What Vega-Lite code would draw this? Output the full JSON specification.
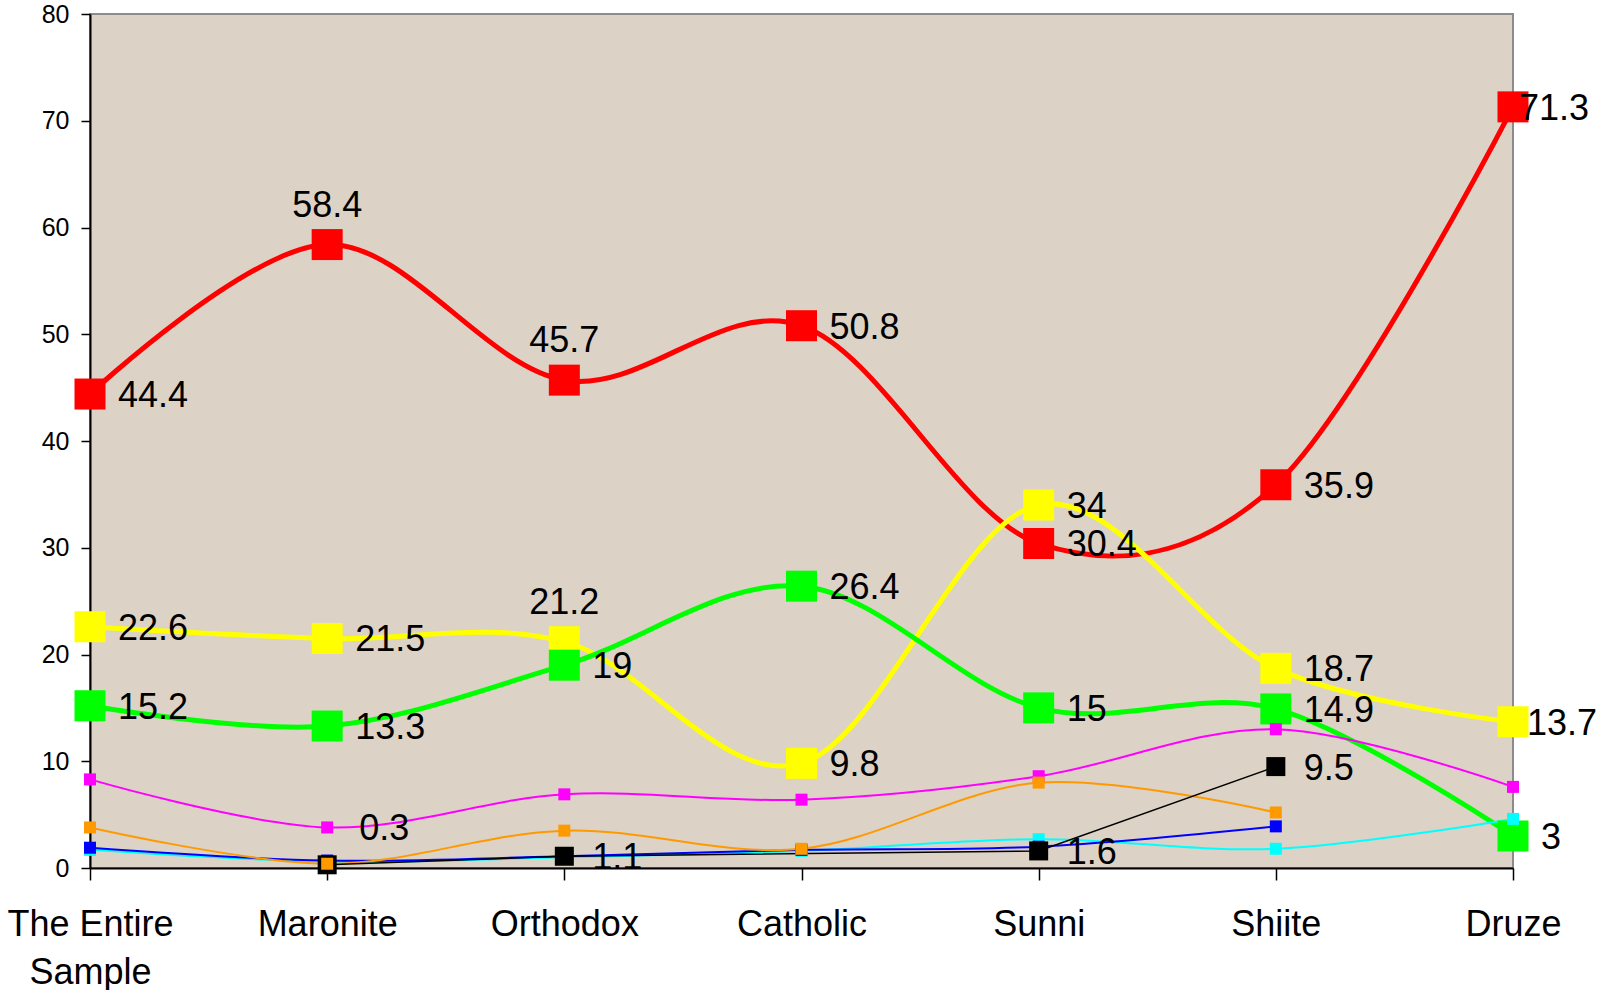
{
  "$schema": "https://vega.github.io/schema/vega-lite/v6.json",
  "width": 1423,
  "height": 854,
  "autosize": {"type": "none"},
  "padding": {"left": 90, "top": 14, "right": 88, "bottom": 122},
  "background": "white",
  "config": {
    "view": {"fill": "#dcd3c6", "stroke": "#8c8c8c", "strokeWidth": 2},
    "font": "Liberation Sans",
    "axis": {"domainColor": "black", "domainWidth": 2, "tickColor": "black", "tickWidth": 1.5, "labelColor": "black", "labelFont": "Liberation Sans", "grid": false, "title": null}
  },
  "data": {
    "values": [
      {"c": "The Entire Sample", "s": "red", "v": 44.4},
      {"c": "Maronite", "s": "red", "v": 58.4},
      {"c": "Orthodox", "s": "red", "v": 45.7},
      {"c": "Catholic", "s": "red", "v": 50.8},
      {"c": "Sunni", "s": "red", "v": 30.4},
      {"c": "Shiite", "s": "red", "v": 35.9},
      {"c": "Druze", "s": "red", "v": 71.3},
      {"c": "The Entire Sample", "s": "yellow", "v": 22.6},
      {"c": "Maronite", "s": "yellow", "v": 21.5},
      {"c": "Orthodox", "s": "yellow", "v": 21.2},
      {"c": "Catholic", "s": "yellow", "v": 9.8},
      {"c": "Sunni", "s": "yellow", "v": 34},
      {"c": "Shiite", "s": "yellow", "v": 18.7},
      {"c": "Druze", "s": "yellow", "v": 13.7},
      {"c": "The Entire Sample", "s": "green", "v": 15.2},
      {"c": "Maronite", "s": "green", "v": 13.3},
      {"c": "Orthodox", "s": "green", "v": 19},
      {"c": "Catholic", "s": "green", "v": 26.4},
      {"c": "Sunni", "s": "green", "v": 15},
      {"c": "Shiite", "s": "green", "v": 14.9},
      {"c": "Druze", "s": "green", "v": 3},
      {"c": "The Entire Sample", "s": "magenta", "v": 8.3},
      {"c": "Maronite", "s": "magenta", "v": 3.8},
      {"c": "Orthodox", "s": "magenta", "v": 6.9},
      {"c": "Catholic", "s": "magenta", "v": 6.4},
      {"c": "Sunni", "s": "magenta", "v": 8.6},
      {"c": "Shiite", "s": "magenta", "v": 13.0},
      {"c": "Druze", "s": "magenta", "v": 7.6},
      {"c": "The Entire Sample", "s": "cyan", "v": 1.7},
      {"c": "Maronite", "s": "cyan", "v": 0.6},
      {"c": "Orthodox", "s": "cyan", "v": 1.0},
      {"c": "Catholic", "s": "cyan", "v": 1.6},
      {"c": "Sunni", "s": "cyan", "v": 2.7},
      {"c": "Shiite", "s": "cyan", "v": 1.8},
      {"c": "Druze", "s": "cyan", "v": 4.6},
      {"c": "The Entire Sample", "s": "blue", "v": 1.9},
      {"c": "Maronite", "s": "blue", "v": 0.7},
      {"c": "Orthodox", "s": "blue", "v": 1.1},
      {"c": "Catholic", "s": "blue", "v": 1.7},
      {"c": "Sunni", "s": "blue", "v": 2.0},
      {"c": "Shiite", "s": "blue", "v": 3.9},
      {"c": "Maronite", "s": "black", "v": 0.3},
      {"c": "Orthodox", "s": "black", "v": 1.1},
      {"c": "Sunni", "s": "black", "v": 1.6},
      {"c": "Shiite", "s": "black", "v": 9.5},
      {"c": "The Entire Sample", "s": "orange", "v": 3.8},
      {"c": "Maronite", "s": "orange", "v": 0.4},
      {"c": "Orthodox", "s": "orange", "v": 3.5},
      {"c": "Catholic", "s": "orange", "v": 1.8},
      {"c": "Sunni", "s": "orange", "v": 8.0},
      {"c": "Shiite", "s": "orange", "v": 5.2}
    ]
  },
  "encoding": {
    "x": {
      "field": "c", "type": "nominal",
      "sort": ["The Entire Sample", "Maronite", "Orthodox", "Catholic", "Sunni", "Shiite", "Druze"],
      "scale": {"type": "point", "padding": 0},
      "axis": {"labelAngle": 0, "labelFontSize": 36, "tickSize": 12, "labelPadding": 27, "labelLineHeight": 48,
        "labelExpr": "datum.value == 'The Entire Sample' ? ['The Entire', 'Sample'] : datum.value"}
    },
    "y": {
      "field": "v", "type": "quantitative",
      "scale": {"domain": [0, 80], "nice": false, "zero": true},
      "axis": {"values": [0, 10, 20, 30, 40, 50, 60, 70, 80], "labelFontSize": 25, "labelFont": "Liberation Sans", "tickSize": 9, "labelPadding": 12, "labelLimit": 0}
    },
    "color": {
      "field": "s", "type": "nominal", "legend": null,
      "scale": {"domain": ["red", "yellow", "green", "magenta", "cyan", "blue", "black", "orange"],
        "range": ["#ff0000", "#ffff00", "#00ff00", "#ff00ff", "#00ffff", "#0000ff", "#000000", "#ff9900"]}
    }
  },
  "layer": [
    {"transform": [{"filter": "indexof(['red','yellow','green'], datum.s) >= 0"}],
     "mark": {"type": "line", "interpolate": "cardinal", "strokeWidth": 5}, "encoding": {"detail": {"field": "s"}}},
    {"transform": [{"filter": "indexof(['magenta','cyan','blue','orange'], datum.s) >= 0"}],
     "mark": {"type": "line", "interpolate": "cardinal", "strokeWidth": 2}, "encoding": {"detail": {"field": "s"}}},
    {"transform": [{"filter": "datum.s == 'black'"}],
     "mark": {"type": "line", "interpolate": "linear", "strokeWidth": 1.5}, "encoding": {}},
    {"transform": [{"filter": "indexof(['red','yellow','green'], datum.s) >= 0"}],
     "mark": {"type": "square", "size": 961, "opacity": 1, "filled": true}, "encoding": {}},
    {"transform": [{"filter": "indexof(['magenta','cyan','blue'], datum.s) >= 0"}],
     "mark": {"type": "square", "size": 144, "opacity": 1, "filled": true}, "encoding": {}},
    {"transform": [{"filter": "datum.s == 'black'"}],
     "mark": {"type": "square", "size": 361, "opacity": 1, "filled": true}, "encoding": {}},
    {"transform": [{"filter": "datum.s == 'orange'"}],
     "mark": {"type": "square", "size": 144, "opacity": 1, "filled": true}, "encoding": {}},
    {"transform": [{"filter": "datum.s == 'green' || (datum.s == 'black' && datum.c != 'Maronite') || ((datum.s == 'red' || datum.s == 'yellow') && datum.c != 'Druze' && datum.c != 'Orthodox' && !(datum.s == 'red' && datum.c == 'Maronite'))"}],
     "mark": {"type": "text", "align": "left", "baseline": "alphabetic", "dx": 28, "dy": 13, "fontSize": 36, "color": "black"},
     "encoding": {"text": {"field": "v"}, "color": {"value": "black"}}},
    {"transform": [{"filter": "(datum.s == 'red' && (datum.c == 'Maronite' || datum.c == 'Orthodox')) || (datum.s == 'yellow' && datum.c == 'Orthodox')"}],
     "mark": {"type": "text", "align": "center", "baseline": "alphabetic", "dx": 0, "dy": -28, "fontSize": 36},
     "encoding": {"text": {"field": "v"}, "color": {"value": "black"}}},
    {"transform": [{"filter": "datum.s == 'red' && datum.c == 'Druze'"}],
     "mark": {"type": "text", "align": "left", "baseline": "alphabetic", "dx": 6, "dy": 13, "fontSize": 36},
     "encoding": {"text": {"field": "v"}, "color": {"value": "black"}}},
    {"transform": [{"filter": "datum.s == 'yellow' && datum.c == 'Druze'"}],
     "mark": {"type": "text", "align": "left", "baseline": "alphabetic", "dx": 14, "dy": 13, "fontSize": 36},
     "encoding": {"text": {"field": "v"}, "color": {"value": "black"}}},
    {"transform": [{"filter": "datum.s == 'black' && datum.c == 'Maronite'"}],
     "mark": {"type": "text", "align": "left", "baseline": "alphabetic", "dx": 32, "dy": -25, "fontSize": 36},
     "encoding": {"text": {"field": "v"}, "color": {"value": "black"}}}
  ]
}
